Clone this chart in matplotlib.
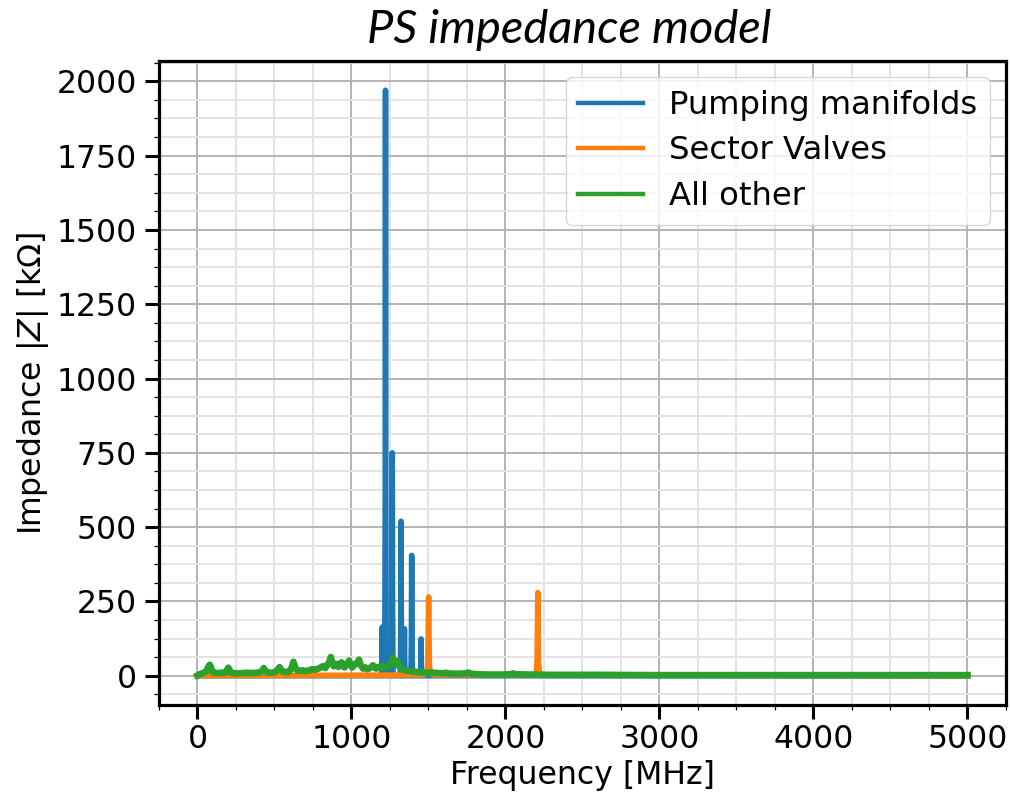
import numpy as np
import matplotlib
matplotlib.use("Agg")
import matplotlib.pyplot as plt
from matplotlib.ticker import MultipleLocator

# --- data -------------------------------------------------------------
# Pumping manifolds: resonance frequencies [MHz] and peak |Z| [kOhm]
pm_freq = [1200, 1221, 1265, 1322, 1344, 1391, 1452]
pm_peak = [164, 1970, 750, 520, 158, 405, 124]

# Sector valves: resonance frequencies [MHz] and peak |Z| [kOhm]
sv_freq = [1501, 2210]
sv_peak = [265, 280]
# shape of a sector-valve resonance around its centre (offset MHz, fraction of peak)
sv_offsets = [-40, -20, -10, -5, -2.5, 0, 2.5, 5, 10, 20, 40]
sv_shape = [0.01, 0.02, 0.05, 0.15, 0.55, 1.0, 0.55, 0.15, 0.05, 0.02, 0.01]

# All other contributions: broadband |Z| trace
other_freq = [0, 10, 25, 40, 55, 65, 72, 79, 86, 95, 110, 130, 150, 170, 185,
              193, 200, 207, 215, 235, 260, 290, 320, 350, 380, 405, 420, 430,
              440, 455, 480, 500, 515, 525, 533, 541, 555, 575, 595, 610, 617,
              623, 630, 640, 655, 680, 705, 725, 745, 765, 785, 800, 815, 830,
              845, 858, 866, 874, 885, 900, 915, 927, 935, 943, 955, 970, 978,
              985, 993, 1005, 1020, 1035, 1049, 1060, 1075, 1090, 1105, 1120,
              1130, 1139, 1148, 1160, 1175, 1190, 1205, 1220, 1235, 1250, 1262,
              1269, 1277, 1290, 1300, 1310, 1325, 1345, 1370, 1400, 1430, 1460,
              1490, 1520, 1560, 1600, 1613, 1625, 1660, 1700, 1745, 1759, 1772,
              1820, 1900, 1980, 2040, 2050, 2060, 2150, 2300, 2600, 3000, 3500,
              4000, 4500, 5000]
other_z = [1, 4, 7, 10, 13, 24, 32, 37, 30, 15, 10, 9, 10, 9, 12,
           21, 27, 21, 11, 9, 8, 9, 10, 9, 10, 11, 16, 26,
           17, 11, 10, 12, 17, 23, 29, 21, 14, 12, 14, 25, 37,
           47, 35, 22, 16, 18, 16, 18, 22, 20, 24, 28, 32, 26,
           38, 49, 63, 45, 32, 40, 30, 38, 45, 36, 28, 38, 45,
           51, 40, 28, 38, 42, 54, 36, 24, 28, 22, 26,
           30, 35, 28, 24, 30, 26, 32, 28, 32, 36, 46,
           60, 48, 38, 50, 32, 22, 18, 16, 14, 12, 11,
           10, 11, 9, 8, 10, 8, 7, 7, 8, 11, 7,
           5, 4, 4, 5, 8, 5, 4, 3, 3, 2, 2,
           2, 2, 2]

# --- series built from the tables above --------------------------------
def peaks_to_trace(freqs, peaks, offsets, shape, f_min=0, f_max=5000):
    f = [f_min]
    z = [0.0]
    for fc, pk in zip(freqs, peaks):
        for off, s in zip(offsets, shape):
            f.append(fc + off)
            z.append(pk * s)
    f.append(f_max)
    z.append(0.0)
    order = np.argsort(f)
    return np.asarray(f)[order], np.asarray(z)[order]

pm_offsets = [-5, -2, 0, 2, 5]
pm_shape = [0.0, 0.3, 1.0, 0.3, 0.0]
pm_f, pm_z = peaks_to_trace(pm_freq, pm_peak, pm_offsets, pm_shape)
sv_f, sv_z = peaks_to_trace(sv_freq, sv_peak, sv_offsets, sv_shape)

# --- figure -------------------------------------------------------------
plt.rcParams["font.family"] = ["DejaVu Sans"]
plt.rcParams["font.size"] = 22.7
plt.rcParams["mathtext.fontset"] = "dejavusans"

fig = plt.figure(figsize=(10.10, 7.97), dpi=100)
ax = fig.add_axes([0.1574, 0.1154, 0.8386, 0.8081])

lw = 4.0
ax.plot(pm_f, pm_z, color="#1f77b4", lw=lw, label="Pumping manifolds")
ax.plot(sv_f, sv_z, color="#ff7f0e", lw=lw, label="Sector Valves")
ax.plot(other_freq, other_z, color="#2ca02c", lw=lw + 0.8, label="All other")

ax.set_xlim(-250, 5250)
ax.set_ylim(-98.5, 2068.5)

ax.xaxis.set_major_locator(MultipleLocator(1000))
ax.xaxis.set_minor_locator(MultipleLocator(250))
ax.yaxis.set_major_locator(MultipleLocator(250))
ax.yaxis.set_minor_locator(MultipleLocator(62.5))

ax.grid(which="major", color="#b3b3b3", lw=1.4)
ax.grid(which="minor", color="#e3e3e3", lw=1.4)
ax.set_axisbelow(True)

for side in ax.spines.values():
    side.set_linewidth(2.3)
    side.set_color("black")

ax.tick_params(which="major", length=10, width=2.2, direction="out")
ax.tick_params(which="minor", length=3.6, width=0.9, direction="out")
ax.tick_params(axis="y", which="major", pad=6)
ax.tick_params(axis="x", which="major", pad=3.5)

ax.set_xlabel("Frequency [MHz]")
ax.set_ylabel(r"Impedance $|Z|$ [k$\Omega$]")

leg = ax.legend(loc="upper right", handlelength=2.0, labelspacing=0.45,
                borderaxespad=0.5, fancybox=True, framealpha=0.8, edgecolor="0.8",
                fontsize=23.2)
for line in leg.get_lines():
    line.set_linewidth(3.2)

fig.text(0.564, 0.962, "PS impedance model", ha="center", va="center",
         fontsize=33.8, style="italic", family=["Lato", "DejaVu Sans"])

fig.savefig("out.png", dpi=100)
